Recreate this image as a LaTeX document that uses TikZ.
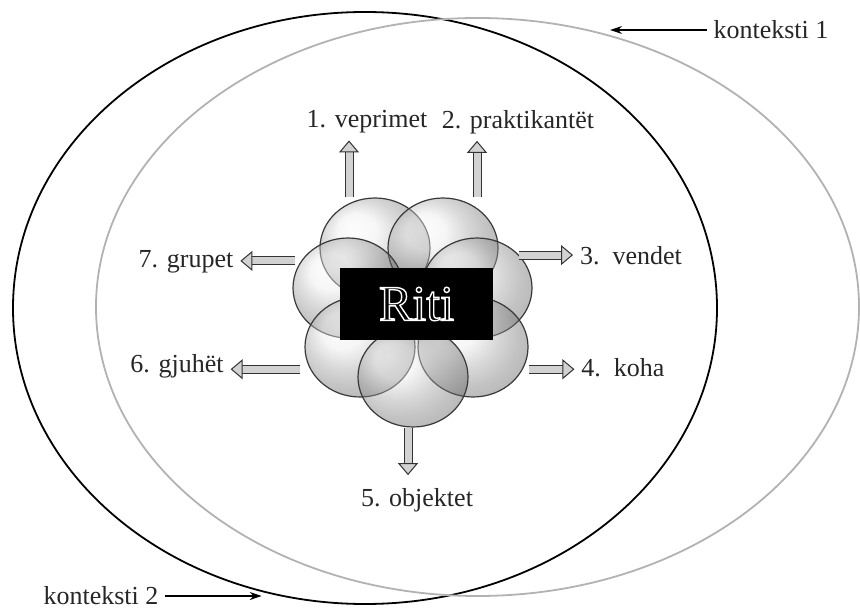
\documentclass[tikz,border=0pt]{standalone}
\usepackage{fontspec}
\setmainfont{Liberation Serif}
\usetikzlibrary{shapes.geometric,arrows.meta}
\tikzstyle{ctx} = [ellipse, inner sep=0pt, line width=0.9pt]
\tikzstyle{petal} = [ellipse, draw=gray!45!black, line width=0.6pt, ball color=gray!22, fill opacity=0.42, minimum width=55pt, minimum height=50pt, inner sep=0pt]
\tikzstyle{item} = [font=\fontsize{13}{15}\selectfont, text=black!85]
\tikzstyle{fat} = [draw=gray!40!black, line width=0.5pt, double=gray!35, double distance=3.5pt, -{Triangle[open,fill=gray!35,length=6pt,width=10pt]}]
\tikzstyle{pointer} = [draw, line width=0.6pt, -{Stealth[length=6pt,width=4pt]}]
\newcommand{\hollow}[1]{\special{pdf:literal 1 Tr 0.7 w}#1\special{pdf:literal 0 Tr}}

\begin{document}
\begin{tikzpicture} [x=0.5pt, y=-0.5pt]
\useasboundingbox (0,0) rectangle (860,608);
% Contexts
\node [ctx, draw=black, minimum width=352pt, minimum height=296pt] (ctx2) at (365,308) {};
\node [ctx, draw=gray!60, minimum width=381.5pt, minimum height=289pt] (ctx1) at (477.5,307) {};
% Petals
\node [petal] (p1) at (375,248) {};
\node [petal] (p2) at (443,248) {};
\node [petal] (p3) at (348,288) {};
\node [petal] (p4) at (477,288) {};
\node [petal] (p5) at (360,347) {};
\node [petal] (p6) at (473,347) {};
\node [petal] (p7) at (413,377) {};
\node [fill=black, minimum width=76.5pt, minimum height=36pt, text=white, font=\fontsize{25}{28}\selectfont] (riti) at (416.5,304) {\hollow{Riti}};
% Labels
\node [item] (l1) at (367,122) {1. veprimet};
\node [item] (l2) at (518,122) {2. praktikantët};
\node [item] (l3) at (631,256) {3.\ \ vendet};
\node [item] (l4) at (623,368) {4.\ \ koha};
\node [item] (l5) at (417,500) {5. objektet};
\node [item] (l6) at (177,366) {6. gjuhët};
\node [item] (l7) at (186,262) {7. grupet};
\node [item] (k1) at (771,30) {konteksti 1};
\node [item] (k2) at (101,596) {konteksti 2};
% Arrows
\path [fat] ([xshift=-13pt]p1.north) -- ([xshift=-13pt]p1.north |- l1.south);
\path [fat] ([xshift=17pt]p2.north) -- ([xshift=17pt]p2.north |- l2.south);
\path [fat] (p4.38) -- (p4.38 -| l3.west);
\path [fat, shorten <=3pt] (p6.-24) -- (p6.-24 -| l4.west);
\path [fat, shorten >=3pt] ([xshift=-2.5pt]p7.south) -- ([xshift=-2.5pt]p7.south |- l5.north);
\path [fat, shorten <=5pt] (p5.204) -- (p5.204 -| l6.east);
\path [fat, shorten <=3pt] (p3.150) -- (p3.150 -| l7.east);
\path [pointer] (k1.west) -- (k1.west -| ctx1.64.5);
\path [pointer] (k2.east) -- (k2.east -| ctx2.250);

\end{tikzpicture}
\end{document}
